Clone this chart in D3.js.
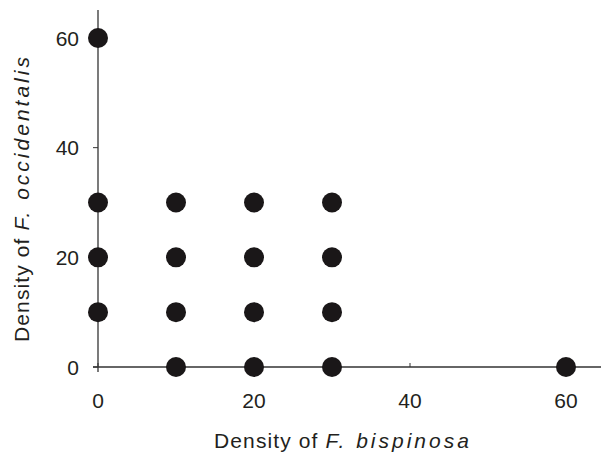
<!DOCTYPE html>
<html><head><meta charset="utf-8">
<script src="https://cdn.jsdelivr.net/npm/d3@7"></script>
<style>body{margin:0;background:#fff}svg{display:block}text{font-family:"Liberation Sans",Arial,sans-serif;fill:#231f20}</style>
</head><body>
<svg id="c" width="604" height="456"></svg>
<script>
const bispinosa =     [0, 0, 0, 0, 10,10,10,10, 20,20,20,20, 30,30,30,30, 60];
const occidentalis =  [60,30,20,10, 0,10,20,30,  0,10,20,30,  0,10,20,30,  0];
const xTicks = [0,20,40,60];
const yTicks = [0,20,40,60];

const svg = d3.select("#c");
const x = d3.scaleLinear().domain([0,60]).range([98,566]);
const y = d3.scaleLinear().domain([0,60]).range([367,38]);
const axisColor = "#333";
const fs = 21;

svg.append("line").attr("x1",93).attr("x2",601).attr("y1",y(0)).attr("y2",y(0))
  .attr("stroke",axisColor).attr("stroke-width",1.3);
svg.append("line").attr("x1",x(0)).attr("x2",x(0)).attr("y1",10).attr("y2",372)
  .attr("stroke",axisColor).attr("stroke-width",1.3);

xTicks.forEach(t=>{
  svg.append("line").attr("x1",x(t)).attr("x2",x(t)).attr("y1",y(0)-4).attr("y2",y(0))
    .attr("stroke",axisColor).attr("stroke-width",1);
  svg.append("text").attr("x",x(t)).attr("y",408).attr("text-anchor","middle")
    .attr("font-size",fs).text(t);
});
yTicks.forEach(t=>{
  svg.append("line").attr("x1",x(0)-5).attr("x2",x(0)).attr("y1",y(t)).attr("y2",y(t))
    .attr("stroke",axisColor).attr("stroke-width",1);
  svg.append("text").attr("x",79).attr("y",y(t)+7.5).attr("text-anchor","end")
    .attr("font-size",fs).text(t);
});

svg.selectAll("circle.p").data(bispinosa.map((b,i)=>[b,occidentalis[i]])).enter()
  .append("circle").attr("class","p")
  .attr("cx",d=>x(d[0])).attr("cy",d=>y(d[1])).attr("r",10).attr("fill","#1a1718");

const xt = svg.append("text").attr("x",343).attr("y",448).attr("text-anchor","middle")
  .attr("font-size",fs);
xt.append("tspan").attr("letter-spacing",1.1).text("Density of ");
xt.append("tspan").attr("font-style","italic").attr("letter-spacing",3).text("F. bispinosa");

const yt = svg.append("text").attr("transform","translate(29,198) rotate(-90)")
  .attr("text-anchor","middle").attr("font-size",fs);
yt.append("tspan").attr("letter-spacing",1.1).text("Density of ");
yt.append("tspan").attr("font-style","italic").attr("letter-spacing",3).text("F. occidentalis");
</script>
</body></html>
